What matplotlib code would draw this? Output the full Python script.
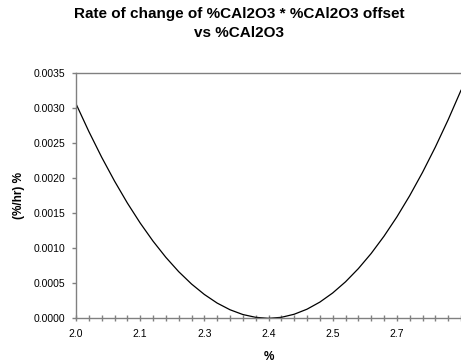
import numpy as np
import matplotlib
matplotlib.use('Agg')
import matplotlib.pyplot as plt
from matplotlib.ticker import FixedLocator, FixedFormatter, MultipleLocator, FormatStrFormatter

plt.rcParams['font.family'] = ['Liberation Sans', 'DejaVu Sans']

# %CAl2O3 categories, 2.0 to 2.8 in 30 steps
n_steps = 30
x_start = 2.0
x_end = 2.8
cal2o3 = [x_start + k * (x_end - x_start) / n_steps for k in range(n_steps + 1)]

# rate of change * offset, (%/hr) %
rate = [0.003056, 0.002662, 0.002295, 0.001956, 0.001643, 0.001358,
        0.001100, 0.000869, 0.000665, 0.000489, 0.000340, 0.000217,
        0.000122, 0.000054, 0.000014, 0.000000, 0.000014, 0.000058,
        0.000130, 0.000231, 0.000361, 0.000520, 0.000708, 0.000924,
        0.001170, 0.001444, 0.001747, 0.002079, 0.002440, 0.002830,
        0.003249]

# every fifth category gets a label
label_idx = [0, 5, 10, 15, 20, 25]
tick_labels = ['%.1f' % cal2o3[i] for i in label_idx]

fig = plt.figure(figsize=(4.61, 3.64), dpi=100)
ax = fig.add_axes([0.1649, 0.1255, 0.8351, 0.6748])

ax.plot(cal2o3, rate, color='black', linewidth=0.9)

ax.set_xlim(x_start, x_end)
ax.set_ylim(0, 0.0035)

grey = '#808080'
for side in ['left', 'top', 'bottom']:
    ax.spines[side].set_color(grey)
    ax.spines[side].set_linewidth(1.0)
ax.spines['right'].set_visible(False)

ax.xaxis.set_major_locator(FixedLocator([cal2o3[i] for i in label_idx]))
ax.xaxis.set_major_formatter(FixedFormatter(tick_labels))
ax.xaxis.set_minor_locator(FixedLocator(cal2o3))
ax.tick_params(axis='x', which='both', direction='inout', length=5, width=1,
               color=grey, labelsize=7.5, pad=5)

ax.yaxis.set_major_locator(MultipleLocator(0.0005))
ax.yaxis.set_major_formatter(FormatStrFormatter('%.4f'))
ax.tick_params(axis='y', direction='out', length=3, width=1, color=grey,
               labelsize=7.5, pad=5)

ax.set_xlabel('%', fontsize=8.5, fontweight='bold', labelpad=8.5)
ax.set_ylabel('(%/hr) %', fontsize=8.5, fontweight='bold', labelpad=6)

fig.text(0.518, 1 - 37.3 / 364, 'Rate of change of %CAl2O3 * %CAl2O3 offset\nvs %CAl2O3',
         ha='center', va='baseline', fontsize=11, fontweight='bold', linespacing=1.5)

fig.savefig('out.png', dpi=100)
